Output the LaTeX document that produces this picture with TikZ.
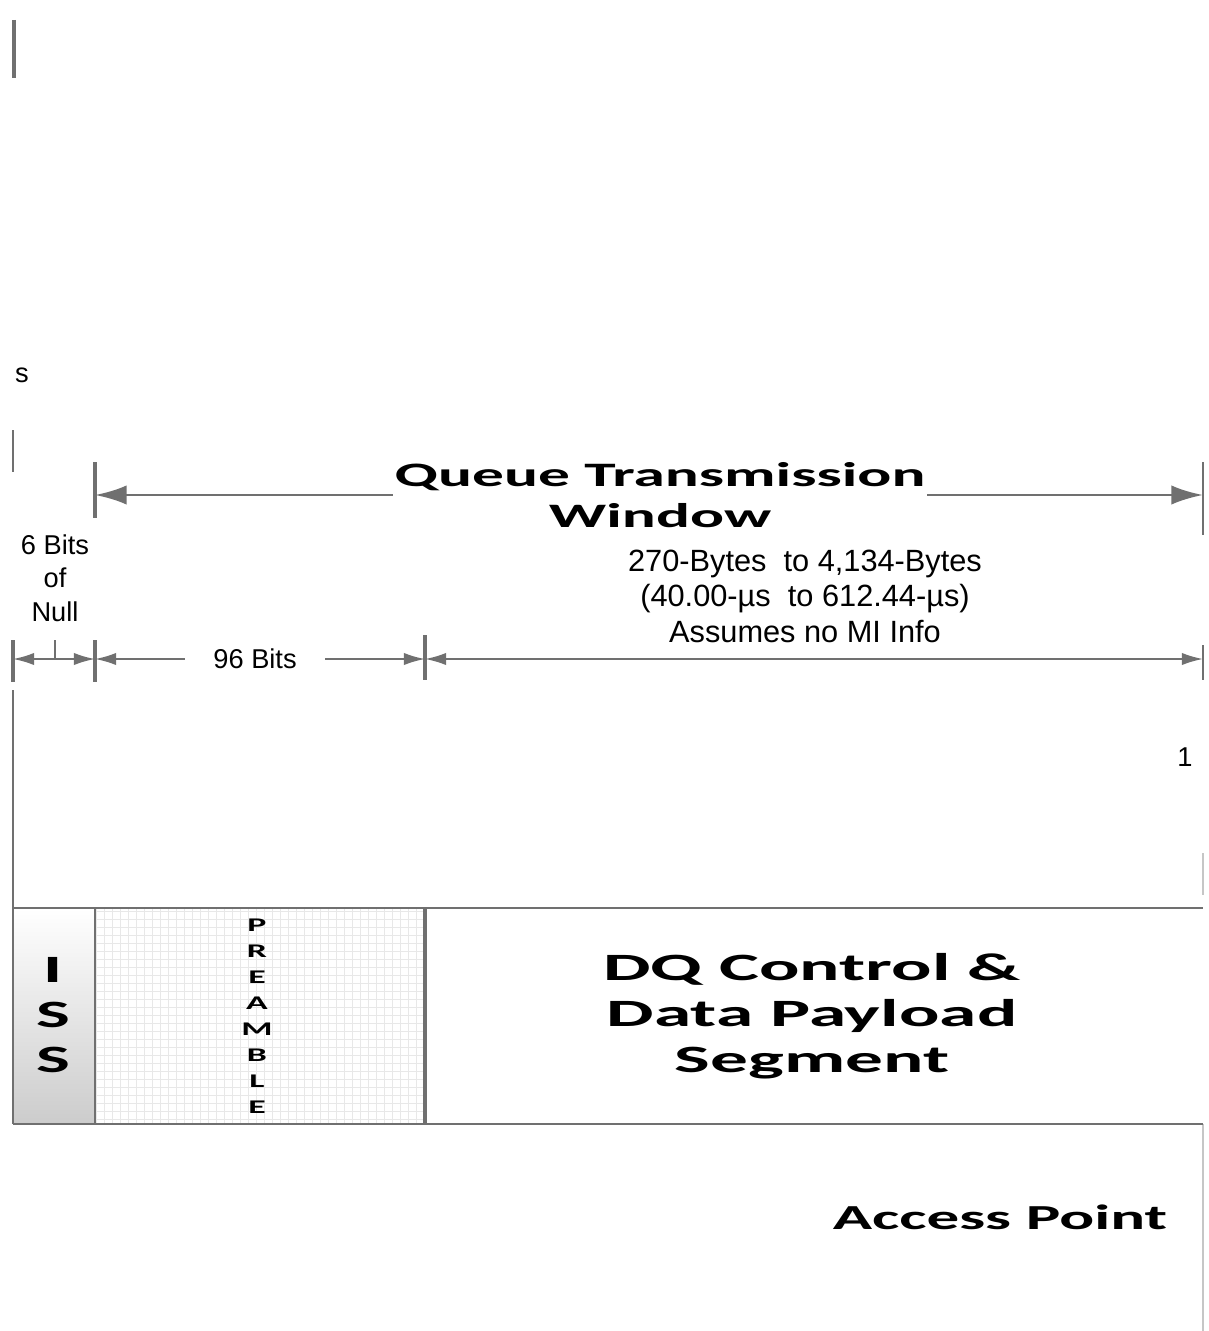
\documentclass[tikz,border=0pt]{standalone}
\usepackage{fontspec}
\usepackage{xcolor}
\usepackage{tikz}
\usetikzlibrary{arrows.meta}
\setmainfont{Liberation Sans}
\newfontfamily\widefont[FakeStretch=1.85]{Carlito}
\newfontfamily\widerfont[FakeStretch=1.95]{Carlito}
\definecolor{linegray}{RGB}{112,112,112}

\begin{document}
\begin{tikzpicture}[x=0.02cm, y=-0.02cm,
        every node/.style={inner sep=1pt, text=black},
        lbl/.style={font=\fontsize{15.5}{19.5}\selectfont, align=center},
        head/.style={font=\widefont\bfseries\fontsize{19.5}{23.5}\selectfont, align=center},
        dqtext/.style={font=\widerfont\bfseries\fontsize{22}{26.2}\selectfont, align=center},
        dimQ/.style={draw=linegray, line width=1.7pt, >={Latex[length=18pt,width=11pt]}},
        dimS/.style={draw=linegray, line width=1.1pt, >={Latex[length=12pt,width=7pt]}},
        tick/.style={draw=linegray, line width=2.2pt}]
    \useasboundingbox (0,0) rectangle (1209,1331);
    % Stray marks
    \draw[tick] (14,20) -- (14,78);
    \draw[linegray, line width=1.6pt] (13,430) -- (13,472);
    \node[lbl] (s) at (22,375) {s};
    \node[lbl] (one) at (1185,757) {1};
    % Queue window
    \coordinate (qL) at (95,495);
    \coordinate (qR) at (1203,495);
    \draw[tick] (95,462) -- (95,518);
    \draw[linegray, line width=1.6pt] (1203,462) -- (1203,535);
    \draw[dimQ, <->] (qL) -- node[pos=0.51, fill=white, head] (queue) {Queue Transmission\\Window} (qR);
    % Labels
    \node[lbl, font=\fontsize{15.5}{19}\selectfont] (null) at (55,578) {6 Bits\\of\\Null};
    \node[lbl, font=\fontsize{17.5}{20.2}\selectfont] (bytes) at (805,596)
        {270-Bytes\ \ to 4,134-Bytes\\(40.00-µs\ \ to 612.44-µs)\\Assumes no MI Info};
    % Bit ruler
    \coordinate (n0) at (13,659);
    \coordinate (n1) at (55,659);
    \coordinate (n2) at (95,659);
    \coordinate (n3) at (425,659);
    \coordinate (n4) at (1203,659);
    \draw[tick, line width=1.8pt] (13,640) -- (13,682);
    \draw[tick, line width=1.8pt] (95,640) -- (95,682);
    \draw[tick, line width=1.8pt] (425,635) -- (425,680);
    \draw[tick, line width=1.2pt] (1203,645) -- (1203,680);
    \draw[linegray, line width=1.1pt] (n1) -- (55,640);
    \draw[dimS, ->] (n1) -- (n0);
    \draw[dimS, ->] (n1) -- (n2);
    \draw[dimS, <->] (n2) -- node[pos=0.485, fill=white, inner xsep=0.56cm, lbl] (bits) {96 Bits} (n3);
    \draw[dimS, <->] (n3) -- (n4);
    % Frame
    \draw[linegray, line width=1.2pt] (13,690) -- (13,908);
    \draw[gray!45, line width=0.8pt] (1203,853) -- (1203,895);
    \draw[gray!45, line width=0.8pt] (1203,1124) -- (1203,1331);
    \shade[top color=white, middle color=white, bottom color=gray!40] (13,908) rectangle (95,1124);
    \draw[gray!18, line width=0.4pt, step=0.16cm] (95,908) grid (425,1124);
    \draw[linegray, line width=1.5pt] (13,908) -- (1203,908);
    \draw[linegray, line width=1.5pt] (13,1124) -- (1203,1124);
    \draw[linegray, line width=1.6pt] (13,908) -- (13,1124);
    \draw[linegray, line width=1.6pt] (95,908) -- (95,1124);
    \draw[linegray, line width=2pt] (425,908) -- (425,1124);
    % Cells
    \node[font=\widefont\bfseries\fontsize{22}{25.6}\selectfont, align=center] (iss) at (53,1015) {I\\S\\S};
    \node[font=\widefont\bfseries\fontsize{11}{14.8}\selectfont, align=center] (pre) at (257,1016) {P\\R\\E\\A\\M\\B\\L\\E};
    \node[dqtext] (dq) at (812,1016) {DQ Control \&\\Data Payload\\Segment};
    \node[font=\widefont\bfseries\fontsize{20}{24}\selectfont] (ap) at (1000,1217) {Access Point};
\end{tikzpicture}
\end{document}
